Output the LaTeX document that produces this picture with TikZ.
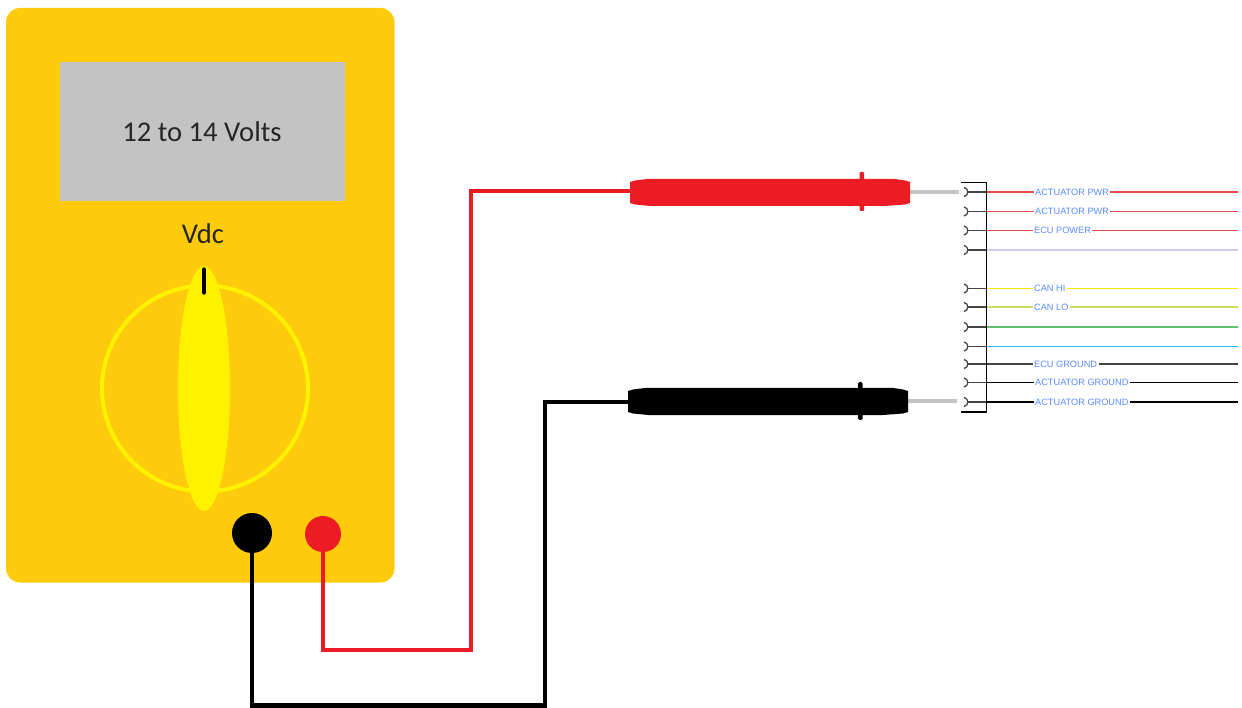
\documentclass[tikz,border=0pt]{standalone}
\usepackage{fontspec}
\setmainfont{Carlito}
\newfontfamily\labelfont{Liberation Sans}
\definecolor{meterbody}{HTML}{FFCB0C}
\definecolor{dialyellow}{HTML}{FFF200}
\definecolor{screen}{HTML}{C3C3C3}
\definecolor{probered}{HTML}{ED1C24}
\definecolor{labelblue}{HTML}{5A8CFF}
\definecolor{wred}{HTML}{EE4B50}
\definecolor{wlilac}{HTML}{CFCDEB}
\definecolor{wyellow}{HTML}{FFE900}
\definecolor{wlime}{HTML}{C6E25C}
\definecolor{wgreen}{HTML}{62C070}
\definecolor{wblue}{HTML}{2FB4F4}
\definecolor{wdark}{HTML}{444444}
\tikzset{
  lead/.style={line width=4.4pt,line join=miter},
  tip/.style={screen,line width=4.5pt},
  wirelabel/.style={font=\labelfont\fontsize{9.2}{9.2}\selectfont,text=labelblue,fill=white,inner xsep=1.5pt,inner ysep=1pt,anchor=west},
  wire/.style={line width=1.6pt},
  jack/.style={circle,inner sep=0pt},
  pinhook/.style={line width=1.3pt,draw=wdark}
}
\newcommand{\probebody}[1]{%
  -- ++(0,-10.5) -- ++(5,-1.5) -- ++(12,-1.5) -- ++(248,0) -- ++(10,1.5) -- ++(5,1.5)
  -- ++(0,21) -- ++(-5,1.5) -- ++(-20,1.5) -- ++(-235,0) -- ++(-15,-1.5) -- ++(-5,-1.5) -- cycle}
\begin{document}
\begin{tikzpicture}[x=1pt,y=-1pt]
\useasboundingbox (0,0) rectangle (1242,708);
% meter
\fill[meterbody,rounded corners=14pt] (6,8) rectangle (394.5,582.5);
\fill[screen] (60,62) rectangle (344.5,201.5);
\node[font=\fontsize{28.6}{28.6}\selectfont,text=black!85] (reading) at (202,132) {12 to 14 Volts};
\node[font=\fontsize{28.6}{28.6}\selectfont,text=black!85] (range) at (203,234) {Vdc};
\draw[dialyellow,line width=4pt] (205,388.5) circle (103);
\fill[dialyellow] (204,388.5) ellipse (26 and 122.5);
\draw[black,line width=4.5pt,line cap=round] (204,269.5) -- (204,292.5);
\node[jack,fill=black,minimum size=40pt] (jackblack) at (252,533) {};
\node[jack,fill=probered,minimum size=36pt] (jackred) at (323,534) {};
% connection points
\coordinate (redprobe) at (632,191);
\coordinate (blackprobe) at (630,402);
\coordinate (redcornerA) at (471,650);
\coordinate (redcornerB) at (471,191);
\coordinate (blackcornerA) at (545,705.5);
\coordinate (blackcornerB) at (545,402);
\draw[lead,probered] (jackred.center) |- (redcornerA) -- (redcornerB) -- (redprobe);
\draw[lead,black] (jackblack.center) |- (blackcornerA) -- (blackcornerB) -- (blackprobe);
% probe tips
\coordinate (redtip) at (959,192);
\coordinate (blacktip) at (957,401);
\draw[tip] (905,192) -- (redtip);
\draw[tip] (905,401) -- (blacktip);
% probes
\fill[probered] (630,192.5) \probebody{};
\fill[black] (628,401.5) \probebody{};
\fill[probered,rounded corners=1pt] (859.5,172) rectangle (864,211);
\fill[black,rounded corners=1.5pt] (858,382) rectangle (862.5,420);
% connector shell
\coordinate (shellTL) at (961,182.5);
\coordinate (shellTR) at (986.5,182.5);
\coordinate (shellBR) at (986.5,412);
\coordinate (shellBL) at (961,412);
% pins and wires
\foreach \n/\y/\c/\t/\lx in {
  1/192/wred/ACTUATOR PWR/1035,
  2/211.5/wred/ACTUATOR PWR/1035,
  3/230.5/wred/ECU POWER/1034,
  4/250/wlilac//0,
  5/288.5/wyellow/CAN HI/1034,
  6/307/wlime/CAN LO/1034,
  7/327/wgreen//0,
  8/346.5/wblue//0,
  9/364/wdark/ECU GROUND/1034,
  10/382.5/black/ACTUATOR GROUND/1035,
  11/402/black/ACTUATOR GROUND/1035}{
  \coordinate (pin\n) at (968,\y);
  \coordinate (wire\n) at (986.5,\y);
  \coordinate (end\n) at (1238,\y);
  \draw[pinhook] (964,\y-4.5) .. controls (969,\y-4) and (969,\y+4) .. (964,\y+4.5);
  \draw[wire,wdark] (pin\n) -- (wire\n);
  \draw[wire,\c] (wire\n) -- (end\n);
  \ifx\t\empty\else
    \node[wirelabel] (label\n) at (\lx-1.5,\y) {\t};
  \fi
}
\draw[black,line width=1.3pt] (shellTL) -- (shellTR) -- (shellBR) -- (shellBL);
\end{tikzpicture}
\end{document}
